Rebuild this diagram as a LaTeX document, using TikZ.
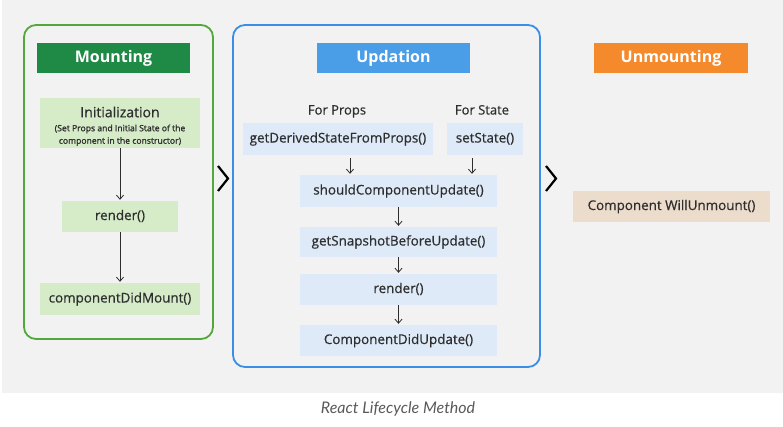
\documentclass[tikz,border=0pt]{standalone}
\usepackage{fontspec}
\setmainfont{Open Sans}
\newfontfamily\medfont{Open Sans}[FakeBold=0.6]
\newfontfamily\semifont{Open Sans}[FakeBold=1.4]
\newfontfamily\capfont{Lato}
\usepackage{xcolor}
\usetikzlibrary{arrows.meta,positioning}
\definecolor{bggrey}{HTML}{F2F2F2}
\definecolor{mountline}{HTML}{52A83A}
\definecolor{mountdark}{HTML}{1F8A46}
\definecolor{mountlight}{HTML}{D6ECC9}
\definecolor{updline}{HTML}{3A8EE6}
\definecolor{upddark}{HTML}{4A9EE8}
\definecolor{updlight}{HTML}{DEEAF8}
\definecolor{unmdark}{HTML}{F58A2C}
\definecolor{unmlight}{HTML}{ECDCCC}
\definecolor{txt}{HTML}{2E2E2E}
\tikzset{>={Straight Barb[length=4pt,width=7pt]}}
\tikzset{phase head/.style={inner sep=0pt,minimum width=153pt,minimum height=30pt,text=white,text height=11.5pt,text depth=3.5pt,font=\fontsize{16}{19}\selectfont\bfseries},
         step box/.style={inner sep=0pt,minimum height=31pt,text=txt,text height=10pt,text depth=3pt,font=\medfont\fontsize{13.4}{16}\selectfont},
         flow/.style={draw=txt,thick,->,shorten >=1pt},
         sub label/.style={text=txt,anchor=base,font=\medfont\fontsize{13}{16}\selectfont},
            }

\begin{document}
\begin{tikzpicture}[x=1pt,y=-1pt]

    \useasboundingbox (0,0) rectangle (783,426);
    \fill[bggrey] (2,0) rectangle (783,393);

    % the three phases
    \draw[mountline,line width=1.8pt,rounded corners=12pt] (24,25) rectangle (213,339);
    \draw[updline,line width=1.8pt,rounded corners=12pt] (233,25) rectangle (540,367);

    \node[phase head,fill=mountdark] (mounthead) at (113.5,58) {Mounting};
    \node[phase head,fill=upddark] (updhead) at (393.5,58) {Updation};
    \node[phase head,fill=unmdark,minimum width=154pt] (unmhead) at (671,58) {Unmounting};

    % mounting
    \node[step box,fill=mountlight,minimum width=160pt,minimum height=50pt,align=center,text height=,text depth=] (init) at (120,123)
        {\rule{0pt}{17pt}{\fontsize{14}{16}\selectfont Initialization}\\[-2pt]{\semifont\fontsize{8.6}{10}\selectfont (Set Props and Initial State of the}\\[-3.5pt]{\semifont\fontsize{8.6}{10}\selectfont component in the constructor)}};
    \node[step box,fill=mountlight,minimum width=116pt] (mrender) at (120,216.5) {render()};
    \node[step box,fill=mountlight,minimum width=160pt,minimum height=32pt] (didmount) at (120,299) {componentDidMount()};

    \draw[flow] (init) -- (mrender);
    \draw[flow] (mrender) -- (didmount);

    % updation
    \node[sub label] (forprops) at (337,114.5) {For Props};
    \node[sub label] (forstate) at (482,114.5) {For State};
    \node[step box,fill=updlight,minimum width=190pt,minimum height=32pt] (derived) at (338,139) {getDerivedStateFromProps()};
    \node[step box,fill=updlight,minimum width=76pt,minimum height=32pt] (setstate) at (485,139) {setState()};
    \node[step box,fill=updlight,minimum width=197pt,minimum height=32pt] (shouldupd) at (398.5,191) {shouldComponentUpdate()};
    \node[step box,fill=updlight,minimum width=197pt,minimum height=30pt] (snapshot) at (398.5,242) {getSnapshotBeforeUpdate()};
    \node[step box,fill=updlight,minimum width=197pt] (urender) at (398.5,289.5) {render()};
    \node[step box,fill=updlight,minimum width=197pt] (didupdate) at (398.5,340.5) {ComponentDidUpdate()};

    \draw[flow,shorten <=3pt] ([xshift=12pt]derived.south) -- ([xshift=12pt]derived.south |- shouldupd.north);
    \draw[flow,shorten <=3pt] ([xshift=-13pt]setstate.south) -- ([xshift=-13pt]setstate.south |- shouldupd.north);
    \draw[flow] (shouldupd) -- (snapshot);
    \draw[flow] (snapshot) -- (urender);
    \draw[flow] (urender) -- (didupdate);

    % unmounting
    \node[step box,fill=unmlight,minimum width=197pt] (willunmount) at (671.5,206.5) {Component WillUnmount()};

    % chevrons between the phases
    \draw[black,line width=2.2pt] (218,166) -- (228,178.5) -- (218,191);
    \draw[black,line width=2.2pt] (546,166) -- (556,178.5) -- (546,191);

    \node[text=black!65,font=\capfont\itshape\fontsize{16}{19}\selectfont] (caption) at (398,409) {React Lifecycle Method};

\end{tikzpicture}
\end{document}
